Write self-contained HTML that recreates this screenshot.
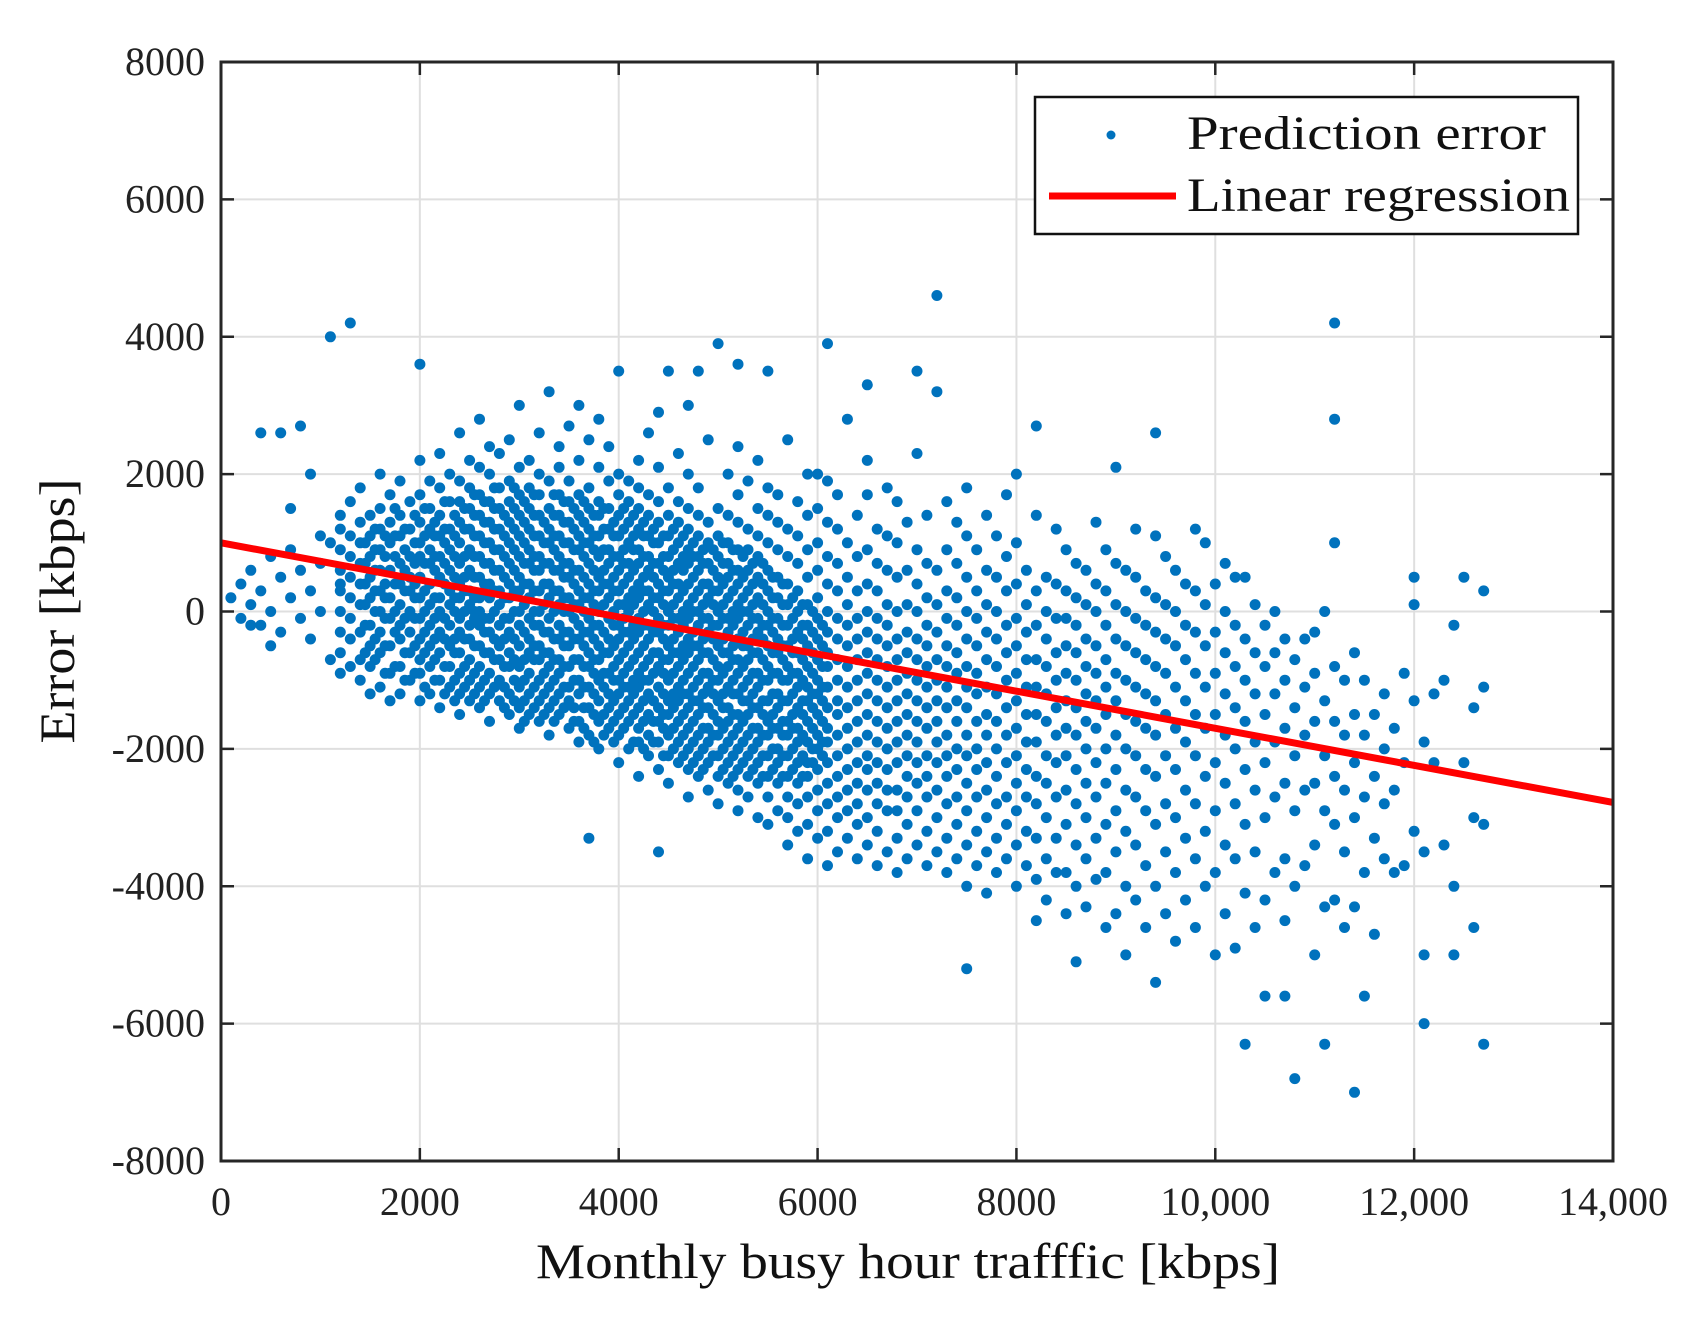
<!DOCTYPE html>
<html><head><meta charset="utf-8"><style>
html,body{margin:0;padding:0;background:#fff;}
svg{display:block;font-family:"Liberation Serif",serif;}
</style></head><body>
<svg id="chart" width="1704" height="1328" viewBox="0 0 1704 1328" xmlns="http://www.w3.org/2000/svg">
<rect width="1704" height="1328" fill="#fff"/>
<g id="grid"></g>
<g id="points"></g>
<g id="reg"></g>
<g id="axes"></g>
<text x="908" y="1278" font-size="50" text-anchor="middle" textLength="744" lengthAdjust="spacingAndGlyphs" fill="#111">Monthly busy hour trafffic [kbps]</text>
<text transform="translate(74,611) rotate(-90)" font-size="50" text-anchor="middle" textLength="265" lengthAdjust="spacingAndGlyphs" fill="#111">Error [kbps]</text>
<g>
<rect x="1035" y="97" width="543" height="137" fill="#fff" stroke="#111" stroke-width="2.5"/>
<circle cx="1111" cy="135" r="4.5" fill="#0072BD"/>
<text x="1187" y="149" font-size="48" textLength="359" lengthAdjust="spacingAndGlyphs" fill="#111">Prediction error</text>
<line x1="1049" y1="196" x2="1176" y2="196" stroke="#ff0000" stroke-width="7"/>
<text x="1187" y="211" font-size="48" textLength="383" lengthAdjust="spacingAndGlyphs" fill="#111">Linear regression</text>
</g>
</svg>
<script>
const xTicks=[0,2000,4000,6000,8000,10000,12000,14000];
const xTickLabels=["0","2000","4000","6000","8000","10,000","12,000","14,000"];
const yTicks=[-8000,-6000,-4000,-2000,0,2000,4000,6000,8000];
const yTickLabels=["-8000","-6000","-4000","-2000","0","2000","4000","6000","8000"];
const regStart=[0,1000];
const regEnd=[14000,-2780];
const raw=`1,2 2,-1 2,4 3,1 3,6 4,-2 4,3 5,8 5,0 6,-3 6,5 7,2 7,9 8,-1 8,6 9,3 9,-4 10,0 10,7 11,10 4,26 6,26 8,27 9,20 10,11 7,15 11,-7 5,-5 3,-2 12,4 11,40 13,42 20,36 75,-52 37,-33 44,-35
12:-9,-6,-3,0,3,6,9,12,14
13:-8,-4,-1,2,5,8,11,16
14:-10,-7,-3,1,4,7,10,13,18
15:-12,-8,-5,-2,2,5,8,11,14
16:-11,-6,-3,0,3,6,9,12,15,20
17:-13,-9,-5,-1,2,6,10,13,17
18:-12,-8,-4,-2,1,4,7,11,14,19
19:-10,-6,-3,0,3,5,8,12,16
20:-13,-9,-7,-4,-1,2,5,8,10,13,17,22
21:-12,-8,-5,-2,1,4,7,9,12,15,19
22:-14,-10,-6,-3,0,2,5,8,11,14,18,23
23:-11,-8,-5,-2,1,3,6,9,12,16,20
24:-15,-12,-9,-6,-3,-1,2,4,7,10,13,16,19,26
25:-13,-10,-7,-4,-2,1,3,6,9,12,15,18,22
26:-14,-11,-8,-5,-2,0,2,5,8,11,14,17,21,28
27:-16,-12,-9,-6,-3,-1,2,4,7,10,13,16,20,24
28:-13,-10,-7,-5,-2,1,3,6,9,12,15,18,23
29:-15,-12,-8,-6,-3,-1,2,4,7,10,13,16,19,25
30:-17,-14,-11,-8,-5,-2,0,3,5,8,11,14,17,21,30
31:-15,-12,-9,-6,-4,-1,2,4,7,9,12,15,18,22
32:-16,-13,-10,-7,-5,-2,0,3,6,8,11,14,17,20,26
33:-18,-14,-11,-8,-6,-3,-1,2,4,7,10,12,15,19,32
34:-15,-12,-9,-7,-4,-2,1,3,6,8,11,14,17,21,24
35:-17,-13,-11,-8,-5,-3,0,2,5,7,10,13,16,19,27
36:-19,-16,-12,-10,-7,-4,-2,1,3,6,9,11,14,17,22,30
37:-18,-14,-11,-8,-6,-3,-1,2,4,7,10,12,15,18,25
38:-20,-16,-13,-10,-7,-5,-2,0,3,5,8,11,14,16,21,28
39:-17,-14,-12,-9,-6,-4,-1,2,4,7,9,12,15,19,24
40:-22,-18,-15,-12,-10,-7,-4,-2,1,3,6,8,11,14,17,20,35
41:-20,-16,-13,-11,-8,-5,-3,0,2,5,7,10,13,16,19
42:-24,-19,-17,-14,-11,-9,-6,-3,-1,2,4,7,9,12,15,18,22
43:-21,-18,-15,-12,-10,-7,-4,-2,1,3,6,8,11,14,17,26
44:-23,-19,-16,-14,-11,-8,-6,-3,-1,2,4,7,10,13,16,21,29
45:-25,-21,-18,-15,-13,-10,-7,-5,-2,0,3,5,8,11,14,18,35
46:-22,-19,-16,-13,-11,-8,-6,-3,-1,2,4,7,10,13,16,23
47:-27,-23,-20,-17,-14,-12,-9,-6,-4,-1,1,4,7,9,12,15,20,30
48:-24,-21,-18,-15,-13,-10,-7,-5,-2,0,3,6,8,11,14,18,35
49:-26,-22,-19,-17,-14,-11,-9,-6,-3,-1,2,4,7,10,13,25
50:-28,-24,-21,-18,-16,-13,-10,-8,-5,-2,0,3,5,8,11,15,39
51:-25,-22,-19,-16,-14,-11,-8,-6,-3,-1,2,5,7,10,14,20
52:-29,-26,-23,-20,-17,-15,-12,-9,-7,-4,-1,1,4,6,9,13,17,24,36
53:-27,-24,-21,-18,-15,-13,-10,-7,-5,-2,0,3,6,9,12,19
54:-30,-25,-22,-19,-17,-14,-11,-9,-6,-3,-1,2,5,8,11,15,22
55:-31,-27,-24,-21,-18,-16,-13,-10,-8,-5,-2,0,3,6,10,14,18,35
56:-29,-25,-22,-20,-17,-14,-12,-9,-6,-4,-1,2,5,9,13,17
57:-34,-30,-27,-24,-21,-18,-16,-13,-10,-8,-5,-2,1,4,8,12,25
58:-32,-28,-25,-22,-19,-17,-14,-11,-9,-6,-3,0,3,7,11,16
59:-36,-31,-27,-24,-22,-19,-16,-13,-11,-8,-5,-2,1,5,9,14,20
60:-33,-29,-26,-23,-20,-18,-15,-12,-10,-7,-4,-1,2,6,10,15,20
61:-37,-32,-28,-25,-22,-19,-17,-14,-11,-8,-6,-3,0,4,8,13,19,39
62:-35,-30,-27,-24,-21,-18,-15,-13,-10,-7,-4,-1,3,7,12,17
63:-33,-29,-26,-23,-20,-17,-14,-11,-8,-5,-2,1,5,10,28
64:-36,-31,-28,-25,-22,-19,-16,-13,-10,-7,-4,-1,3,8,14
65:-34,-30,-26,-23,-21,-18,-15,-12,-9,-6,-3,0,4,9,17,22,33
66:-37,-32,-28,-25,-22,-19,-16,-13,-10,-7,-4,-1,3,7,12
67:-35,-29,-26,-23,-20,-17,-14,-11,-8,-5,-2,1,6,11,18
68:-38,-33,-29,-26,-22,-19,-16,-13,-10,-7,-4,0,5,10,16
69:-36,-31,-27,-24,-21,-18,-15,-12,-9,-6,-3,1,6,13
70:-34,-29,-25,-22,-19,-16,-13,-10,-7,-4,0,4,9,23,35
71:-37,-32,-27,-24,-21,-17,-14,-11,-8,-5,-2,2,7,14
72:-35,-30,-26,-22,-19,-16,-13,-10,-7,-3,1,6,32,46
73:-38,-33,-28,-24,-21,-18,-14,-11,-8,-5,-1,3,9,16
74:-36,-31,-27,-23,-20,-16,-13,-9,-6,-2,2,7,13
75:-40,-34,-29,-25,-21,-18,-14,-11,-8,-4,0,5,11,18
76:-37,-32,-27,-23,-20,-16,-12,-9,-5,-1,3,9
77:-41,-35,-30,-26,-22,-18,-15,-11,-7,-3,1,6,14
78:-38,-33,-28,-24,-20,-16,-12,-8,-4,0,5,11
79:-36,-31,-27,-22,-18,-14,-10,-6,-2,3,8,17
80:-40,-34,-29,-25,-21,-17,-13,-9,-5,-1,4,10,20
81:-37,-32,-27,-23,-19,-15,-11,-7,-3,1,6
82:-45,-39,-33,-28,-24,-19,-15,-11,-7,-2,3,14,27
83:-42,-36,-30,-25,-21,-16,-12,-8,-4,0,5
84:-38,-33,-27,-22,-18,-14,-10,-6,-1,4,12
85:-44,-38,-31,-26,-21,-17,-13,-9,-5,-1,3,9
86:-51,-40,-34,-28,-23,-18,-14,-10,-6,-2,2,7
87:-43,-36,-30,-25,-20,-16,-12,-8,-4,1,6
88:-39,-33,-27,-22,-17,-13,-9,-5,0,4,13
89:-46,-38,-31,-25,-20,-15,-11,-7,-2,3,9
90:-44,-35,-29,-23,-18,-13,-9,-4,1,7,21
91:-50,-40,-32,-26,-20,-15,-10,-5,0,6
92:-42,-34,-27,-21,-16,-11,-6,-1,5,12
93:-46,-37,-29,-23,-17,-12,-7,-2,3
94:-54,-40,-31,-24,-18,-13,-8,-3,2,26,11
95:-44,-35,-28,-21,-15,-9,-4,1,8
96:-48,-38,-30,-23,-17,-11,-5,0,6
97:-42,-33,-26,-19,-13,-7,-2,4
98:-46,-36,-28,-21,-15,-9,-3,3,12
99:-40,-32,-24,-17,-11,-5,1,10
100:-50,-38,-29,-22,-15,-9,-3,4
101:-44,-34,-25,-18,-12,-6,0,7
102:-49,-36,-28,-20,-14,-8,-2,5
103:-63,-41,-31,-23,-16,-10,-4,5
104:-46,-35,-26,-19,-12,-6,1
105:-56,-42,-30,-22,-15,-8,-2
106:-38,-27,-19,-12,-6,0
107:-56,-45,-36,-25,-17,-10,-4
108:-68,-40,-29,-21,-14,-7
109:-37,-26,-18,-11,-4
110:-50,-34,-25,-16,-9,-3
111:-63,-43,-29,-21,-13,0
112:-42,-31,-24,-16,-8,42,28,10
113:-46,-35,-26,-18,-10
114:-70,-43,-30,-22,-15,-6
115:-56,-38,-27,-18,-10
116:-47,-33,-24,-15
117:-36,-28,-20,-12
118:-38,-26,-17
119:-37,-22,-9
120:-32,-13,1,5
121:-50,-60,-19,-35
122:-22,-12
123:-34,-10
124:-50,-40,-2
125:-22,5
126:-30,-14,-46
127:-63,-31,-11,3
14.5:-6,-2,1,4,7,10
15.5:-7,-4,0,3,6,9,12
16.5:-9,-5,-1,2,4,8,11
17.5:-8,-3,0,4,8,11,15
18.5:-10,-6,-1,3,6,9,12
19.5:-9,-5,-1,2,4,7,10,14
20.5:-11,-6,-3,0,3,7,11,15
21.5:-10,-7,-4,-1,2,6,8,11,13
22.5:-12,-8,-4,-1,4,7,10,12,16
23.5:-13,-10,-6,-4,0,2,5,8,11,14
24.5:-11,-8,-4,0,3,5,8,12,15
25.5:-12,-9,-5,-1,0,2,5,8,11,14,17
26.5:-13,-10,-6,-3,-1,4,7,10,13,16
27.5:-11,-7,-4,0,3,6,9,12,15,18
28.5:-14,-11,-8,-4,-1,2,5,8,11,14
29.5:-13,-10,-7,-4,0,3,6,9,12,15,18
30.5:-16,-13,-10,-7,-3,1,4,7,10,13,16
31.5:-14,-11,-7,-5,-2,0,3,6,8,11,14,17
32.5:-15,-12,-9,-6,-3,1,4,7,10,13
33.5:-16,-13,-10,-7,-4,0,3,6,9,11,14,17
34.5:-14,-11,-8,-5,-3,0,2,5,7,10,13,16
35.5:-16,-14,-10,-7,-4,-1,1,4,6,9,12,15
36.5:-17,-14,-11,-8,-5,-3,0,2,5,8,10,13,16
37.5:-19,-15,-12,-9,-7,-4,-2,1,3,6,9,11,14
38.5:-18,-15,-11,-9,-6,-3,1,4,6,9,12,15
39.5:-19,-16,-13,-10,-8,-5,-2,0,3,5,8,11,13
40.5:-17,-14,-11,-9,-6,-3,-1,1,4,7,9,12,15
41.5:-19,-15,-12,-10,-7,-4,-2,1,3,6,9,11,14
42.5:-20,-16,-13,-10,-8,-5,-2,0,3,5,8,11,13
43.5:-19,-16,-13,-9,-6,-3,0,2,5,7,10,12
44.5:-21,-17,-15,-12,-9,-7,-4,-2,1,3,6,8,11
45.5:-20,-17,-14,-12,-9,-6,-4,-1,1,4,6,9,12
46.5:-21,-18,-15,-12,-10,-7,-5,-2,0,3,6,8,11
47.5:-22,-19,-16,-13,-11,-8,-5,-3,0,2,5,8,10
48.5:-23,-20,-17,-14,-12,-9,-6,-4,-1,1,4,7,9
49.5:-21,-18,-15,-12,-10,-7,-4,-2,1,3,6,9
50.5:-23,-20,-17,-14,-12,-9,-6,-4,-1,1,4,7,10
51.5:-24,-21,-18,-15,-12,-10,-7,-5,-2,0,3,6,9
52.5:-22,-19,-16,-13,-11,-8,-5,-3,0,2,5,8
53.5:-23,-20,-17,-14,-12,-9,-6,-4,-1,1,4,7
54.5:-24,-21,-18,-15,-13,-10,-7,-4,-2,1,4,7
55.5:-23,-20,-17,-15,-12,-9,-6,-3,-1,2,5
56.5:-24,-21,-18,-16,-13,-10,-7,-5,-2,1,4
57.5:-23,-20,-17,-15,-12,-9,-6,-4,-1,2
58.5:-24,-21,-18,-15,-13,-10,-7,-4,-2,1
59.5:-22,-20,-17,-14,-12,-9,-6,-3,0
60.5:-21,-19,-16,-13,-11,-8,-5,-2`;
const xs=[];
const ys=[];
raw.split("\n").forEach(line=>{
  if(line.indexOf(":")>=0){
    const parts=line.split(":");
    const xv=+parts[0];
    parts[1].split(",").forEach(v=>{xs.push(xv*100);ys.push(+v*100);});
  }else{
    line.trim().split(/\s+/).forEach(p=>{const q=p.split(",");xs.push(+q[0]*100);ys.push(+q[1]*100);});
  }
});
const NS="http://www.w3.org/2000/svg";
const L=221,R=1613,T=62,B=1161;
function sx(v){return L+(v-0)/(14000-0)*(R-L);}
function sy(v){return B-(v+8000)/16000*(B-T);}
function mk(tag,attrs,parent){const e=document.createElementNS(NS,tag);for(const k in attrs)e.setAttribute(k,attrs[k]);parent.appendChild(e);return e;}
const grid=document.getElementById("grid"),axes=document.getElementById("axes"),pts=document.getElementById("points"),reg=document.getElementById("reg");
xTicks.forEach((t,i)=>{
  const g=mk("line",{x1:sx(t),x2:sx(t),y1:T,y2:B,stroke:"#dfdfdf","stroke-width":2},grid);
  
  
  const a=mk("line",{x1:sx(t),x2:sx(t),y1:B,y2:B-13,stroke:"#262626","stroke-width":2.5},axes);
  
  
  const b=mk("line",{x1:sx(t),x2:sx(t),y1:T,y2:T+13,stroke:"#262626","stroke-width":2.5},axes);
  
  
  const tx=mk("text",{x:sx(t),y:1215,"font-size":40,"text-anchor":"middle",fill:"#222"},axes);
  tx.textContent=xTickLabels[i];
  
  
});
yTicks.forEach((t,i)=>{
  const g=mk("line",{x1:L,x2:R,y1:sy(t),y2:sy(t),stroke:"#dfdfdf","stroke-width":2},grid);
  
  
  const a=mk("line",{x1:L,x2:L+13,y1:sy(t),y2:sy(t),stroke:"#262626","stroke-width":2.5},axes);
  
  
  const b=mk("line",{x1:R,x2:R-13,y1:sy(t),y2:sy(t),stroke:"#262626","stroke-width":2.5},axes);
  
  
  const tx=mk("text",{x:205,y:sy(t)+13,"font-size":40,"text-anchor":"end",fill:"#222"},axes);
  tx.textContent=yTickLabels[i];
  
  
});
const box=mk("rect",{x:L,y:T,width:R-L,height:B-T,fill:"none",stroke:"#262626","stroke-width":3},axes);


for(let i=0;i<xs.length;i++){
  if(xs[i]<0||xs[i]>14000||ys[i]<-8000||ys[i]>8000)continue;
  const c=mk("circle",{cx:sx(xs[i]).toFixed(1),cy:sy(ys[i]).toFixed(1),r:5.5,fill:"#0072BD"},pts);
  
  
}
const rl=mk("line",{x1:sx(regStart[0]),y1:sy(regStart[1]),x2:sx(regEnd[0]),y2:sy(regEnd[1]),stroke:"#ff0000","stroke-width":7},reg);


</script>
</body></html>
